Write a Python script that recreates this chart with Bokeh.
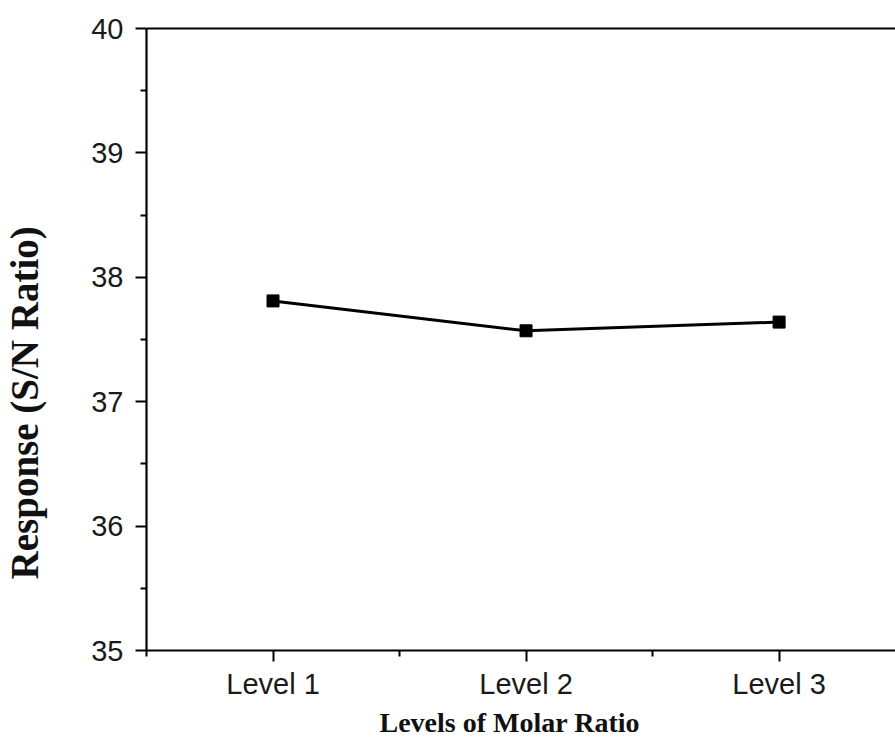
from bokeh.plotting import figure
from bokeh.models import FixedTicker, LinearAxis, Range1d, Title
from bokeh.embed import file_html
from bokeh.resources import INLINE

levels = ["Level 1", "Level 2", "Level 3"]
level_pos = [1, 2, 3]
sn_ratio = [37.81, 37.57, 37.64]
y_ticks = [35, 36, 37, 38, 39, 40]
y_minor = [35.5, 36.5, 37.5, 38.5, 39.5]
x_minor = [0.5, 1.5, 2.5, 3.5]

p = figure(width=895, height=748, output_backend="svg", toolbar_location=None,
           x_range=Range1d(0.5, 3.46), y_range=Range1d(35, 40),
           min_border_left=143, min_border_right=0, min_border_top=28, min_border_bottom=98)
p.outline_line_color = None
p.xgrid.visible = False
p.ygrid.visible = False
p.background_fill_color = "white"
p.border_fill_color = "white"

p.line(level_pos, sn_ratio, line_color="black", line_width=3)
p.scatter(level_pos, sn_ratio, marker="square", size=12, fill_color="black", line_color="black")

for ax, ticks, minor in ((p.xaxis[0], level_pos, x_minor), (p.yaxis[0], y_ticks, y_minor)):
    ax.ticker = FixedTicker(ticks=ticks, minor_ticks=minor)
    ax.axis_line_width = 2.2
    ax.axis_line_color = "black"
    ax.major_tick_line_color = "black"
    ax.minor_tick_line_color = "black"
    ax.major_tick_line_width = 2
    ax.minor_tick_line_width = 2
    ax.major_tick_in = 0
    ax.major_tick_out = 11
    ax.minor_tick_in = 0
    ax.minor_tick_out = 6
    ax.major_label_text_font = "Liberation Sans"
    ax.major_label_text_font_size = "29px"
    ax.major_label_text_color = "#1a1a1a"

p.xaxis[0].major_label_overrides = {pos: lab for pos, lab in zip(level_pos, levels)}
p.xaxis[0].major_label_standoff = 6
p.yaxis[0].major_label_standoff = 12

# y title: trailing no-break spaces shift the visible text below the frame centre, as in the reference
p.yaxis[0].axis_label = "Response (S/N Ratio)" + "\u00a0" * 13
p.yaxis[0].axis_label_text_font = "Liberation Serif"
p.yaxis[0].axis_label_text_font_style = "bold"
p.yaxis[0].axis_label_text_font_size = "39px"
p.yaxis[0].axis_label_text_color = "#111111"
p.yaxis[0].axis_label_standoff = 42

top = LinearAxis(ticker=FixedTicker(ticks=[]), major_label_text_font_size="0px",
                 axis_line_width=2.2, axis_line_color="black",
                 major_tick_out=0, minor_tick_out=0)
p.add_layout(top, "above")

xlab = Title(text="Levels of Molar Ratio", align="left", offset=233, standoff=4,
             text_font="Liberation Serif", text_font_style="bold",
             text_font_size="28px", text_color="#111111")
p.add_layout(xlab, "below")

open("out.html", "w").write(file_html(p, INLINE))
